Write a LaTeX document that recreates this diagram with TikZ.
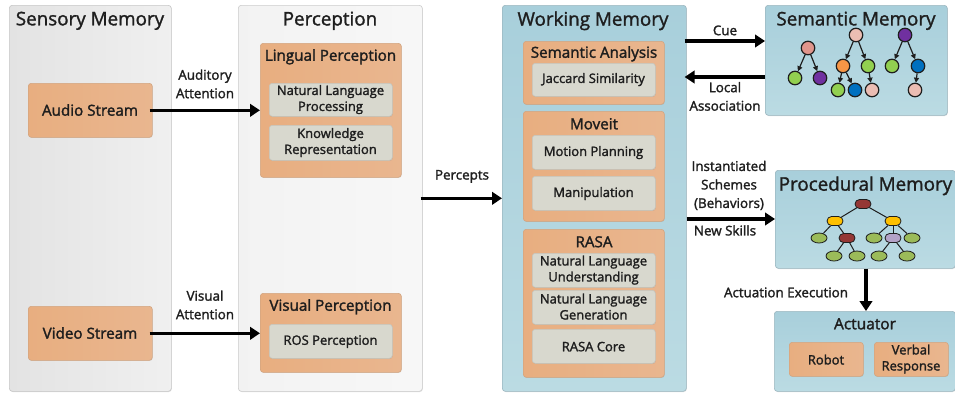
\documentclass[tikz,border=0pt]{standalone}
\usepackage{fontspec}
\setmainfont{Open Sans}
\newfontfamily\semi{Open Sans}[FakeBold=1.8]
\newfontfamily\semit{Open Sans}[FakeBold=1.4]
\usetikzlibrary{arrows.meta,calc,shadows,shapes.geometric,shapes.misc}
\definecolor{ink}{HTML}{1E1E1E}
\definecolor{treeline}{HTML}{1E1E1E}
\definecolor{blue1}{HTML}{A8CFDB}
\definecolor{blue2}{HTML}{BBDBE3}
\definecolor{orange1}{HTML}{E8AE80}
\definecolor{orange2}{HTML}{E9B68F}
\definecolor{inner1}{HTML}{D8D8CE}
\definecolor{nsalmon}{HTML}{E0958C}
\definecolor{npink}{HTML}{EBBDB3}
\definecolor{ngreen}{HTML}{92D050}
\definecolor{npurple}{HTML}{7030A0}
\definecolor{norange}{HTML}{F79646}
\definecolor{nblue}{HTML}{0070C0}
\definecolor{pred}{HTML}{953735}
\definecolor{pyellow}{HTML}{FFC000}
\definecolor{pgreen}{HTML}{9BBB59}
\definecolor{ppurple}{HTML}{B3A2C7}
\tikzset{
  x=1pt,y=-1pt,
  boxbase/.style={rounded corners=3pt,inner sep=0pt,anchor=north west},
  panelbox/.style={boxbase,line width=0.6pt,drop shadow={shadow xshift=0.5pt,shadow yshift=-0.7pt,opacity=0.25}},
  greypanel/.style={panelbox,draw=gray!45,left color=gray!22,right color=gray!12},
  lightpanel/.style={panelbox,draw=gray!40,left color=gray!10,right color=gray!6},
  bluepanel/.style={panelbox,draw=blue1!70!gray,bottom color=blue2,top color=blue1},
  orangebox/.style={boxbase,draw=orange1!80!gray,line width=0.6pt,left color=orange1,right color=orange2,drop shadow={shadow xshift=0.4pt,shadow yshift=-0.6pt,opacity=0.25}},
  innerbox/.style={boxbase,draw=inner1!80!gray,line width=0.6pt,fill=inner1,drop shadow={shadow xshift=0.4pt,shadow yshift=-0.6pt,opacity=0.25}},
  lbl/.style={font=\semi\fontsize{13}{16}\selectfont,text=ink,inner sep=0pt,align=center,yshift=-0.6pt},
  flow/.style={font=\semi\fontsize{13.4}{18.5}\selectfont,text=ink,inner sep=0pt,align=center,yshift=-0.4pt},
  stream/.style={font=\semi\fontsize{15.2}{18}\selectfont,text=ink,inner sep=0pt},
  title/.style={font=\semit\fontsize{18.8}{21}\selectfont,text=ink,inner sep=0pt,yshift=-0.8pt},
  subtitle/.style={font=\semi\fontsize{15.2}{18}\selectfont,text=ink,inner sep=0pt,yshift=-0.8pt},
  arr/.style={line width=3.2pt,draw=black,-{Triangle[length=10pt,width=12.5pt]}},
  sn/.style={circle,draw=treeline,line width=1.2pt,fill=#1,minimum size=13.5pt,inner sep=0pt},
  pn/.style={ellipse,draw=treeline,line width=0.8pt,fill=#1,minimum width=16pt,minimum height=10pt,inner sep=0pt},
  pr/.style={rounded rectangle,draw=treeline,line width=0.8pt,fill=#1,minimum width=16pt,minimum height=9pt,inner sep=0pt},
  sedge/.style={line width=1.2pt,draw=treeline,-{Triangle[length=5pt,width=5pt]}},
  pedge/.style={line width=1pt,draw=treeline},
}
\begin{document}
\begin{tikzpicture}
\useasboundingbox (0,0) rectangle (955,397);
% panels
\node[greypanel,minimum width=162pt,minimum height=386pt] (sensory) at (9,5) {};
\node[lightpanel,minimum width=184pt,minimum height=386pt] (perception) at (238,5) {};
\node[bluepanel,minimum width=184pt,minimum height=386pt] (working) at (502,5) {};
\node[bluepanel,minimum width=182pt,minimum height=110pt] (semmem) at (765,5) {};
\node[bluepanel,minimum width=180pt,minimum height=98pt] (procmem) at (775,170) {};
\node[bluepanel,minimum width=181pt,minimum height=80pt] (actuator) at (774,311) {};
\node[title] (tsens) at (90,20) {Sensory Memory};
\node[title] (tperc) at (330,20) {Perception};
\node[title] (twork) at (593,20) {Working Memory};
\node[title] (tsem) at (856,20) {Semantic Memory};
\node[title] (tproc) at (865.5,185) {Procedural Memory};
\node[subtitle,font=\semi\fontsize{15.5}{18}\selectfont] (tact) at (865,323) {Actuator};
% sensory
\node[orangebox,minimum width=124pt,minimum height=54pt] (audio) at (28,83) {};
\node[stream] (taudio) at (90,110) {Audio Stream};
\node[orangebox,minimum width=124pt,minimum height=54pt] (video) at (28,306) {};
\node[stream] (tvideo) at (90,333) {Video Stream};
% perception
\node[orangebox,minimum width=141pt,minimum height=134pt] (lingual) at (260,43) {};
\node[subtitle] (tling) at (330.5,56) {Lingual Perception};
\node[innerbox,minimum width=123pt,minimum height=33pt] (nlp) at (269,83) {};
\node[lbl] (tnlp) at (330.5,99) {Natural Language\\Processing};
\node[innerbox,minimum width=123pt,minimum height=35pt] (kr) at (269,125) {};
\node[lbl] (tkr) at (330.5,142) {Knowledge\\Representation};
\node[orangebox,minimum width=141pt,minimum height=79pt] (visual) at (260,293) {};
\node[subtitle] (tvis) at (330.5,306) {Visual Perception};
\node[innerbox,minimum width=123pt,minimum height=34pt] (ros) at (269,324) {};
\node[lbl] (tros) at (330.5,341) {ROS Perception};
% working
\node[orangebox,minimum width=141pt,minimum height=63pt] (sa) at (523,41) {};
\node[subtitle] (tsa) at (594,53) {Semantic Analysis};
\node[innerbox,minimum width=123pt,minimum height=33pt] (jac) at (532,63) {};
\node[lbl] (tjac) at (593.5,79) {Jaccard Similarity};
\node[orangebox,minimum width=141pt,minimum height=110pt] (moveit) at (523,111) {};
\node[subtitle] (tmov) at (594,123) {Moveit};
\node[innerbox,minimum width=123pt,minimum height=34pt] (mp) at (532,135) {};
\node[lbl] (tmp) at (593.5,152) {Motion Planning};
\node[innerbox,minimum width=123pt,minimum height=34pt] (man) at (532,176) {};
\node[lbl] (tman) at (593.5,193) {Manipulation};
\node[orangebox,minimum width=141pt,minimum height=148pt] (rasa) at (523,229) {};
\node[subtitle] (trasa) at (594,241) {RASA};
\node[innerbox,minimum width=123pt,minimum height=34pt] (nlu) at (532,253) {};
\node[lbl] (tnlu) at (593.5,269.5) {Natural Language\\Understanding};
\node[innerbox,minimum width=123pt,minimum height=34pt] (nlg) at (532,290) {};
\node[lbl] (tnlg) at (593.5,306) {Natural Language\\Generation};
\node[innerbox,minimum width=123pt,minimum height=34pt] (core) at (532,329) {};
\node[lbl] (tcore) at (593.5,346) {RASA Core};
% actuator
\node[orangebox,minimum width=74pt,minimum height=34pt] (robot) at (789,342) {};
\node[lbl] (trobot) at (826,359) {Robot};
\node[orangebox,minimum width=74pt,minimum height=34pt] (verbal) at (874,342) {};
\node[lbl] (tverbal) at (911,358.5) {Verbal\\Response};
% semantic trees
\node[sn=nsalmon] (a) at (808,48) {};
\node[sn=ngreen] (b) at (795,78) {};
\node[sn=npurple] (c) at (820,78) {};
\node[sn=npink] (d) at (856,35) {};
\node[sn=norange] (e) at (843,66) {};
\node[sn=ngreen] (f) at (868,66) {};
\node[sn=ngreen] (g) at (838,90) {};
\node[sn=nblue] (h) at (855,90) {};
\node[sn=npink] (i) at (872,90) {};
\node[sn=npurple] (j) at (905,35) {};
\node[sn=ngreen] (k) at (892,66) {};
\node[sn=nblue] (l) at (918,66) {};
\node[sn=npink] (m) at (915,90) {};
\foreach \p/\q in {a/b,a/c,d/e,d/f,e/g,e/h,f/i,j/k,j/l,l/m} \draw[sedge] (\p) -- (\q);
% procedural tree
\node[pr=pred] (p0) at (863,204) {};
\node[pr=pyellow] (p1) at (835,221) {};
\node[pr=pyellow] (p2) at (893,221) {};
\node[pn=pgreen] (p3) at (819,238) {};
\node[pr=pred] (p4) at (847,238) {};
\node[pn=pgreen] (p5) at (874,238) {};
\node[pr=ppurple] (p6) at (893,238) {};
\node[pn=pgreen] (p7) at (912,238) {};
\node[pn=pgreen] (p8) at (834,256) {};
\node[pn=pgreen] (p9) at (857,256) {};
\node[pn=pgreen] (p10) at (879,256) {};
\node[pn=pgreen] (p11) at (907,256) {};
\foreach \p/\q in {p0/p1,p0/p2,p1/p3,p1/p4,p4/p8,p4/p9,p2/p5,p2/p6,p2/p7,p6/p10,p6/p11} \draw[pedge] (\p) -- (\q);
% connectors
\coordinate (ycue) at (0,41);
\coordinate (yloc) at (0,77);
\coordinate (yski) at (0,219);
\coordinate (xact) at (866,0);
\draw[arr] ([xshift=-3pt]audio.east) -- (lingual.west);
\draw[arr] ([xshift=-3pt]video.east) -- (visual.west |- video.east);
\draw[arr] ([xshift=-2pt]perception.east) -- (working.west |- perception.east);
\draw[arr] ([xshift=-2pt]working.east |- ycue) -- (semmem.west |- ycue);
\draw[arr] (semmem.west |- yloc) -- ([xshift=-2pt]working.east |- yloc);
\draw[arr] (working.east |- yski) -- (procmem.west |- yski);
\draw[arr] (xact |- procmem.south) -- (xact |- actuator.north);
% labels
\node[flow] (lat) at (205,83.5) {Auditory\\Attention};
\node[flow] (lvt) at (205,304.5) {Visual\\Attention};
\node[flow] (lpe) at (462,176) {Percepts};
\node[flow] (lcu) at (725,30) {Cue};
\node[flow] (lla) at (725,96) {Local\\Association};
\node[flow] (lis) at (729,185) {Instantiated\\Schemes\\(Behaviors)};
\node[flow] (lns) at (725,230) {New Skills};
\node[flow] (lae) at (786,292) {Actuation Execution};
\end{tikzpicture}
\end{document}
